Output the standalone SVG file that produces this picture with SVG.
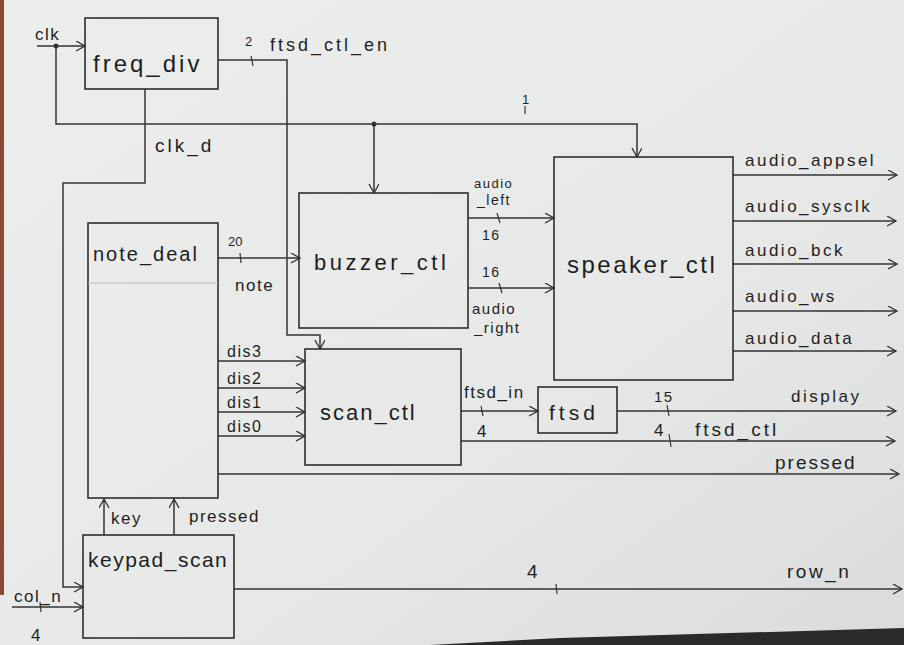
<svg xmlns="http://www.w3.org/2000/svg" width="904" height="645" viewBox="0 0 904 645">
<defs>
<marker id="ah" markerWidth="12" markerHeight="12" refX="10" refY="5" orient="auto" markerUnits="userSpaceOnUse">
<path d="M1,0 L10,5 L1,10" fill="none" stroke="#2e2e2e" stroke-width="1.3"/>
</marker>
<linearGradient id="bg" x1="0" y1="0" x2="1" y2="1">
<stop offset="0" stop-color="#eceeec"/>
<stop offset="0.6" stop-color="#e6e9e7"/>
<stop offset="1" stop-color="#d9dcda"/>
</linearGradient>
<style>
.box{fill:none;stroke:#2e2e2e;stroke-width:1.6}
.w{fill:none;stroke:#333;stroke-width:1.5}
.a{fill:none;stroke:#333;stroke-width:1.5;marker-end:url(#ah)}
.t{fill:none;stroke:#333;stroke-width:1.2}
text{font-family:"Liberation Sans","DejaVu Sans",sans-serif;fill:#1e1e1e}
.m{font-size:22px;letter-spacing:2px}
.s{font-size:17px;letter-spacing:1.5px}
.n{font-size:13px}
</style>
</defs>
<rect x="0" y="0" width="904" height="645" fill="url(#bg)"/>
<rect x="0" y="0" width="4" height="595" fill="#8a4a3a"/>
<path d="M430,645 L560,638 L904,628 L904,645 Z" fill="#2a2a2a"/>

<g id="connectors">
<path class="a" d="M37,46 L85,46"/>
<circle cx="56" cy="46" r="2.5" fill="#333"/>
<path class="a" d="M56,46 L56,124 L637,124 L637,157"/>
<circle cx="374" cy="124" r="2.5" fill="#333"/>
<path class="a" d="M374,124 L374,193"/>
<path class="t" d="M525,106 L525,114"/>
<path class="a" d="M218,60 L287,60 L287,335 L320,335 L320,349"/>
<path class="t" d="M251,56 L253,66"/>
<path class="a" d="M145,89 L145,183 L63,183 L63,587 L83,587"/>
<path class="a" d="M218,258 L300,258"/>
<path class="t" d="M240,253 L241,263"/>
<path class="a" d="M218,361 L305,361"/>
<path class="a" d="M218,388 L305,388"/>
<path class="a" d="M218,412 L305,412"/>
<path class="a" d="M218,436 L305,436"/>
<path class="a" d="M218,474 L899,474"/>
<path class="a" d="M468,218 L554,218"/>
<path class="t" d="M497,213 L500,223"/>
<path class="a" d="M468,288 L554,288"/>
<path class="t" d="M499,283 L502,293"/>
<path class="a" d="M733,175 L897,175"/>
<path class="a" d="M733,221 L896,221"/>
<path class="a" d="M733,264 L897,264"/>
<path class="a" d="M733,311 L897,311"/>
<path class="a" d="M733,351 L896,351"/>
<path class="a" d="M461,411 L538,411"/>
<path class="t" d="M481,406 L483,416"/>
<path class="a" d="M617,411 L896,411"/>
<path class="t" d="M667,405 L669,416"/>
<path class="a" d="M461,441 L895,441"/>
<path class="t" d="M669,434 L671,447"/>
<path class="a" d="M104,535 L104,499"/>
<path class="a" d="M174,535 L174,499"/>
<path class="a" d="M12,607 L83,607"/>
<path class="t" d="M40,602 L41,612"/>
<path class="a" d="M234,589 L902,589"/>
<path class="t" d="M556,584 L557,594"/>
</g>

<g id="freq_div">
<rect class="box" x="85" y="18" width="133" height="71"/>
<text class="m" x="93" y="72" style="font-size:24px;letter-spacing:3px">freq_div</text>
</g>
<g id="note_deal">
<rect class="box" x="88" y="223" width="130" height="275"/>
<line x1="88" y1="283" x2="218" y2="283" stroke="#bbb" stroke-width="1"/>
<text class="s" x="93" y="261" style="font-size:20px;letter-spacing:2px">note_deal</text>
</g>
<g id="buzzer_ctl">
<rect class="box" x="299" y="193" width="169" height="135"/>
<text class="m" x="314" y="270" style="letter-spacing:3.5px">buzzer_ctl</text>
</g>
<g id="speaker_ctl">
<rect class="box" x="554" y="157" width="179" height="223"/>
<text class="m" x="567" y="273" style="font-size:24px;letter-spacing:2.5px">speaker_ctl</text>
</g>
<g id="scan_ctl">
<rect class="box" x="305" y="349" width="156" height="116"/>
<text class="m" x="320" y="420">scan_ctl</text>
</g>
<g id="ftsd">
<rect class="box" x="538" y="387" width="79" height="46"/>
<text class="m" x="549" y="420" style="font-size:21px;letter-spacing:4px">ftsd</text>
</g>
<g id="keypad_scan">
<rect class="box" x="83" y="535" width="151" height="103"/>
<text class="m" x="88" y="567" style="font-size:21px;letter-spacing:1.5px">keypad_scan</text>
</g>

<g id="labels">
<text class="s" x="35" y="40">clk</text>
<text class="n" x="245" y="46">2</text>
<text class="s" x="270" y="51" style="font-size:18px;letter-spacing:3px">ftsd_ctl_en</text>
<text class="n" x="522" y="104">1</text>
<text class="s" x="155" y="152" style="font-size:19px;letter-spacing:3px">clk_d</text>
<text class="n" x="228" y="246">20</text>
<text class="s" x="235" y="291">note</text>
<text class="s" x="474" y="188" style="font-size:13px">audio</text>
<text class="s" x="477" y="205" style="font-size:14px">_left</text>
<text class="s" x="482" y="240" style="font-size:14px">16</text>
<text class="s" x="482" y="277" style="font-size:14px">16</text>
<text class="s" x="472" y="314" style="font-size:15px">audio</text>
<text class="s" x="474" y="333" style="font-size:15px">_right</text>
<text class="s" x="745" y="166" style="letter-spacing:2.5px">audio_appsel</text>
<text class="s" x="745" y="212" style="letter-spacing:2.5px">audio_sysclk</text>
<text class="s" x="745" y="256" style="letter-spacing:2.5px">audio_bck</text>
<text class="s" x="745" y="302" style="letter-spacing:2.5px">audio_ws</text>
<text class="s" x="745" y="344" style="letter-spacing:2.5px">audio_data</text>
<text class="s" x="227" y="357" style="font-size:16px">dis3</text>
<text class="s" x="227" y="384" style="font-size:16px">dis2</text>
<text class="s" x="227" y="408" style="font-size:16px">dis1</text>
<text class="s" x="227" y="432" style="font-size:16px">dis0</text>
<text class="s" x="464" y="398">ftsd_in</text>
<text class="s" x="477" y="437">4</text>
<text class="s" x="654" y="402" style="font-size:15px">15</text>
<text class="s" x="791" y="402" style="letter-spacing:2.5px">display</text>
<text class="s" x="654" y="436">4</text>
<text class="s" x="695" y="436" style="font-size:19px;letter-spacing:3px">ftsd_ctl</text>
<text class="s" x="775" y="469" style="font-size:19px;letter-spacing:2px">pressed</text>
<text class="s" x="111" y="524">key</text>
<text class="s" x="189" y="522">pressed</text>
<text class="s" x="14" y="602">col_n</text>
<text class="s" x="31" y="641">4</text>
<text class="s" x="527" y="578" style="font-size:19px">4</text>
<text class="s" x="787" y="578" style="font-size:19px;letter-spacing:2.5px">row_n</text>
</g>
</svg>
